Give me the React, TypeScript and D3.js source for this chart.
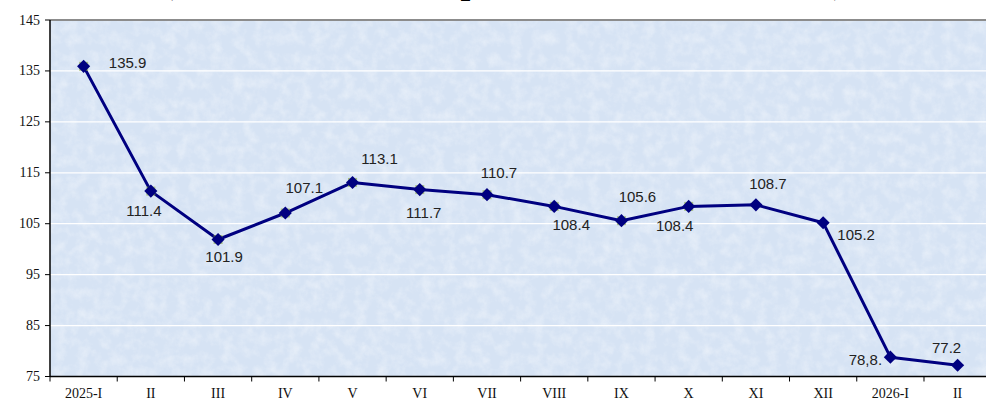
import React from "react";
import * as d3 from "d3";

const categories = ["2025-I", "II", "III", "IV", "V", "VI", "VII", "VIII", "IX", "X", "XI", "XII", "2026-I", "II"];
const values = [135.9, 111.4, 101.9, 107.1, 113.1, 111.7, 110.7, 108.4, 105.6, 108.4, 108.7, 105.2, 78.8, 77.2];
const valueLabels = ["135.9", "111.4", "101.9", "107.1", "113.1", "111.7", "110.7", "108.4", "105.6", "108.4", "108.7", "105.2", "78,8.", "77.2"];
const yTicks = [75, 85, 95, 105, 115, 125, 135, 145];
const titleText = "(Index of industrial production volume, in %)";

// layout of value labels relative to their point (pixels)
const labelOffsets: [number, number][] = [
  [44, -4], [-7, 19], [6, 17], [19, -26], [27, -24], [4, 23], [12, -22],
  [17, 18], [16, -24], [-14, 19], [12, -21], [33, 12], [-25, 2], [-11, -18],
];
const haloPoints = 10;

const W = 986, H = 401;
const left = 50, top = 20, bottom = 376.5;
const band = 67.23;
const right = left + band * categories.length;

export default function App() {
  const x = d3.scaleBand<number>().domain(categories.map((_, i) => i)).range([left, right]).padding(0);
  const y = d3.scaleLinear().domain([75, 145]).range([bottom, top]);
  const cx = (i: number) => (x(i) as number) + x.bandwidth() / 2;
  const line = d3.line<number>().x((_, i) => cx(i)).y((v) => y(v));
  const diamond = d3.symbol().type(d3.symbolDiamond2).size(110)();

  return (
    <svg width={W} height={H} style={{ position: "fixed", left: 0, top: 0, background: "#fff" }}>
      <defs>
        <filter id="tex" x="0" y="0" width="100%" height="100%">
          <feTurbulence type="fractalNoise" baseFrequency="0.09" numOctaves={4} seed={3} />
          <feColorMatrix type="matrix" values="0 0 0 0 1  0 0 0 0 1  0 0 0 0 1  1.8 0 0 0 -0.7" />
        </filter>
        <clipPath id="plotClip">
          <rect x={left} y={top} width={right - left} height={bottom - top} />
        </clipPath>
      </defs>
      <text x={162} y={-7} fontFamily="'Liberation Serif', 'Times New Roman', serif" fontWeight="bold" fontSize={35} fill="#000">
        {titleText}
      </text>
      <rect x={left} y={top} width={right - left} height={bottom - top} fill="#d6e3f4" />
      <rect x={left} y={top} width={right - left} height={bottom - top} fill="#fff" filter="url(#tex)" opacity={0.4} />
      {yTicks.filter((t) => t > 75 && t < 145).map((t) => (
        <line key={t} x1={left} x2={right} y1={y(t)} y2={y(t)} stroke="#ffffff" strokeWidth={1.2} />
      ))}
      <line x1={left} x2={right} y1={top} y2={top} stroke="#8c8c8c" strokeWidth={2} />
      <line x1={left} x2={left} y1={top} y2={bottom} stroke="#000" strokeWidth={1.5} />
      <line x1={left} x2={right} y1={bottom} y2={bottom} stroke="#000" strokeWidth={1.5} />
      {yTicks.map((t) => (
        <g key={"yt" + t}>
          <line x1={left - 5} x2={left} y1={y(t)} y2={y(t)} stroke="#000" strokeWidth={1} />
          <text x={40} y={y(t)} textAnchor="end" dominantBaseline="central" fontFamily="'Liberation Serif', 'Times New Roman', serif" fontSize={14} fill="#111">
            {t}
          </text>
        </g>
      ))}
      {categories.map((c, i) => (
        <g key={"xt" + i}>
          <line x1={x(i) as number} x2={x(i) as number} y1={bottom} y2={bottom + 5} stroke="#000" strokeWidth={1} />
          <text x={cx(i)} y={393} textAnchor="middle" dominantBaseline="central" fontFamily="'Liberation Serif', 'Times New Roman', serif" fontSize={14} fill="#111">
            {c}
          </text>
        </g>
      ))}
      <g clipPath="url(#plotClip)">
        <path d={line(values) || ""} fill="none" stroke="#000080" strokeWidth={3} strokeLinejoin="round" />
        {values.map((v, i) => (
          <g key={"m" + i} transform={`translate(${cx(i)},${y(v)})`}>
            {i < haloPoints && <rect x={-4.5} y={-4.5} width={9} height={9} fill="#8aa83a" opacity={0.6} />}
            <path d={diamond || ""} fill="#000080" />
          </g>
        ))}
      </g>
      {values.map((v, i) => (
        <text key={"l" + i} x={cx(i) + labelOffsets[i][0]} y={y(v) + labelOffsets[i][1]} textAnchor="middle" dominantBaseline="central" fontFamily="'Liberation Sans', Arial, sans-serif" fontSize={15} fill="#222">
          {valueLabels[i]}
        </text>
      ))}
    </svg>
  );
}
